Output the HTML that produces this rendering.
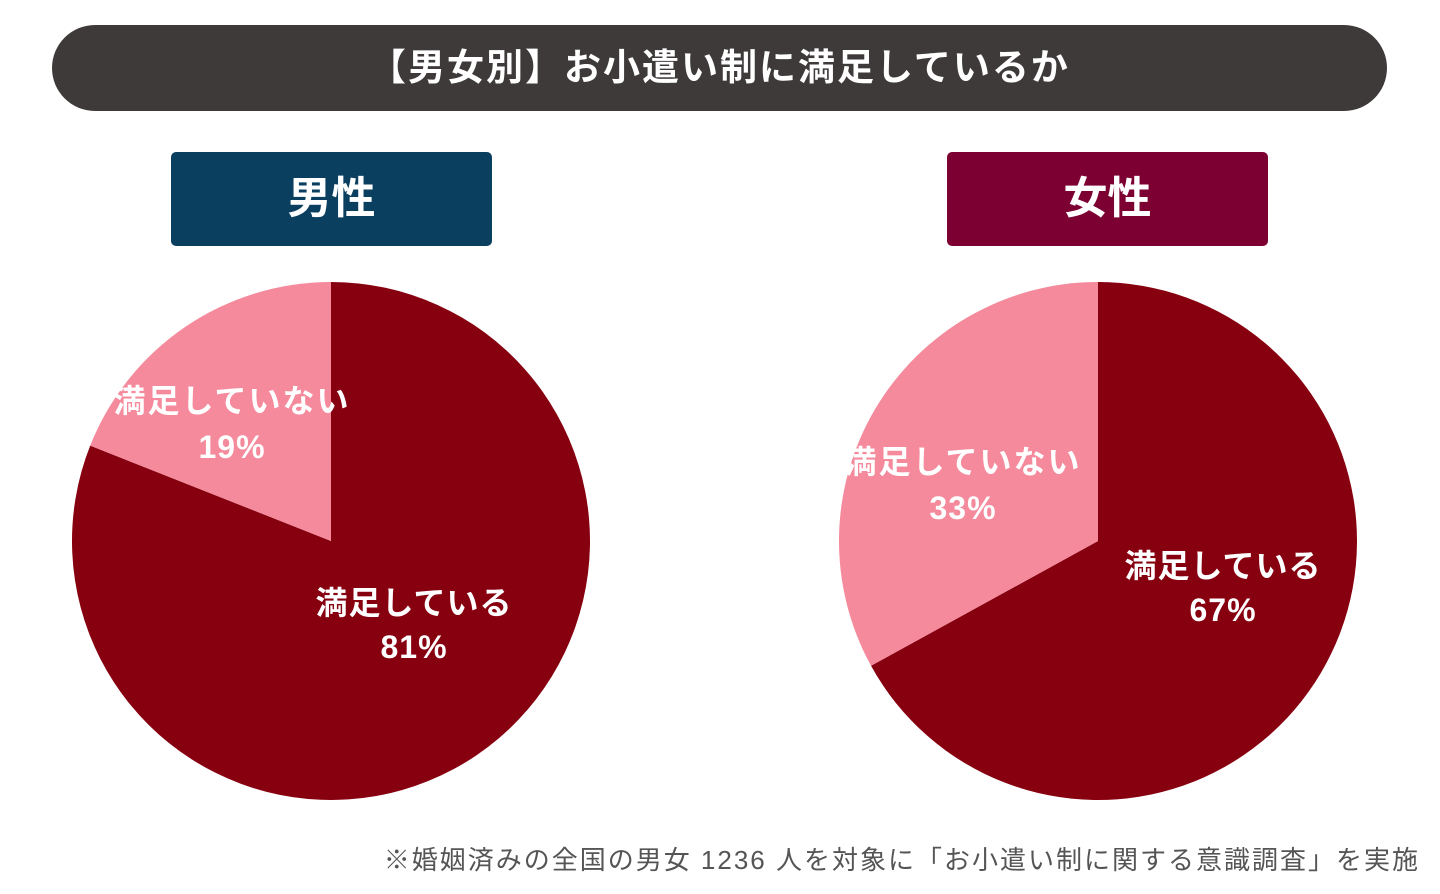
<!DOCTYPE html>
<html><head><meta charset="utf-8"><style>
body{margin:0;width:1440px;height:894px;background:#fff;position:relative;overflow:hidden;font-family:"Liberation Sans","Noto Sans CJK JP",sans-serif}
.title{position:absolute;left:52px;top:25px;width:1335px;height:86px;border-radius:43px;background:#3e3a3a;color:#fff;font-size:37px;font-weight:bold;text-align:center;line-height:86px;letter-spacing:2px}
.box{position:absolute;top:152px;width:321px;height:94px;border-radius:5px;color:#fff;font-size:44px;font-weight:bold;text-align:center;line-height:94px}
.note{position:absolute;right:20px;top:840px;font-size:26px;color:#555;letter-spacing:2px}
</style></head><body>
<div class="title">【男女別】お小遣い制に満足しているか</div>
<div class="box" style="left:171px;background:#0b3f5f">男性</div>
<div class="box" style="left:947px;background:#7d0033">女性</div>
<svg id="svg" width="1440" height="894" style="position:absolute;left:0;top:0"></svg>
<div class="note">※婚姻済みの全国の男女 1236 人を対象に「お小遣い制に関する意識調査」を実施</div>
<script>
const groups=["男性","女性"];
const satisfied=[81,67];
const notSatisfied=[19,33];
const labelSat="満足している", labelNot="満足していない";
const svg=document.getElementById('svg');
const NS='http://www.w3.org/2000/svg';
const centers=[[331,541],[1098,541]], R=259;
const satPos=[[414,614],[1223,577]], notPos=[[232,412],[963,473]];
function pt(cx,cy,f){const a=f*2*Math.PI;return [cx+R*Math.sin(a),cy-R*Math.cos(a)];}
function slice(cx,cy,f0,f1,col,name){
  const p=document.createElementNS(NS,'path');
  const [x0,y0]=pt(cx,cy,f0),[x1,y1]=pt(cx,cy,f1);
  p.setAttribute('d',`M${cx},${cy}L${x0},${y0}A${R},${R} 0 ${f1-f0>0.5?1:0} 1 ${x1},${y1}Z`);
  p.setAttribute('fill',col);
  
  
  svg.appendChild(p);
}
function label(x,y,t,name,ls){
  const e=document.createElementNS(NS,'text');
  e.setAttribute('x',x);e.setAttribute('y',y);e.setAttribute('text-anchor','middle');
  e.setAttribute('font-size','32');e.setAttribute('font-weight','bold');e.setAttribute('fill','#fff');
  e.setAttribute('letter-spacing',ls);
  e.setAttribute('font-family','"Liberation Sans","Noto Sans CJK JP",sans-serif');
  e.textContent=t;
  
  
  svg.appendChild(e);
}
groups.forEach((g,i)=>{
  const [cx,cy]=centers[i];
  const tot=satisfied[i]+notSatisfied[i];
  const fs=satisfied[i]/tot;
  slice(cx,cy,0,fs,'#87000f','slice-satisfied-'+i);
  slice(cx,cy,fs,1,'#f48a9c','slice-not-satisfied-'+i);
  label(satPos[i][0],satPos[i][1],labelSat,'label-satisfied-'+i,'1');
  label(satPos[i][0],satPos[i][1]+44,satisfied[i]+'%','value-satisfied-'+i,'1');
  label(notPos[i][0],notPos[i][1],labelNot,'label-not-satisfied-'+i,'2');
  label(notPos[i][0],notPos[i][1]+46,notSatisfied[i]+'%','value-not-satisfied-'+i,'1');
});
</script>
</body></html>
